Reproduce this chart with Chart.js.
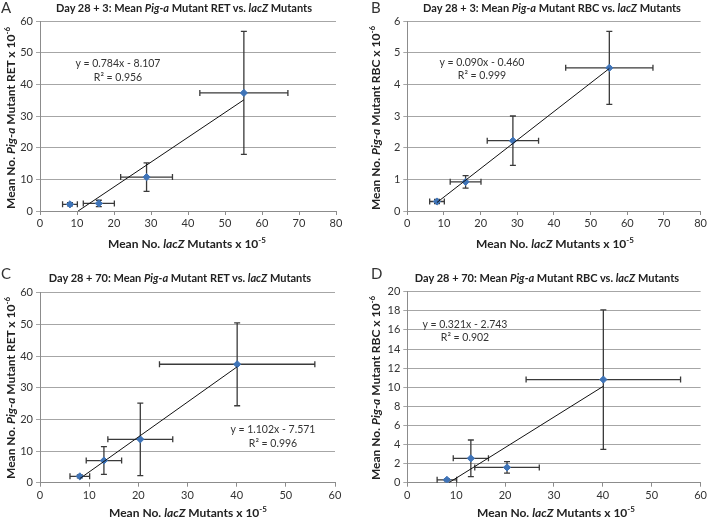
<!DOCTYPE html>
<html><head><meta charset="utf-8">
<script src="https://cdn.jsdelivr.net/npm/chart.js@4/dist/chart.umd.min.js"></script>
<style>
html,body{margin:0;padding:0;background:#fff;}
#wrap{position:relative;width:709px;height:519px;overflow:hidden;font-family:Lato,"Open Sans",sans-serif;color:#222;}
canvas{position:absolute;left:0;top:0;}
.t{position:absolute;white-space:nowrap;transform:translate(-50%,-50%);}
.title{font-weight:bold;font-size:11px;}
.xt{font-weight:bold;font-size:12px;}
.yt{font-weight:bold;font-size:12px;transform:translate(-50%,-50%) rotate(-90deg);}
.eq{font-size:10.5px;color:#333;}
.lab{position:absolute;font-size:15px;color:#333;}
sup{font-size:8px;vertical-align:5px;line-height:0;}
</style></head>
<body><div id="wrap">
<canvas id="cA" width="709" height="519"></canvas>
<canvas id="cB" width="709" height="519"></canvas>
<canvas id="cC" width="709" height="519"></canvas>
<canvas id="cD" width="709" height="519"></canvas>

<div class="lab" style="left:1px;top:-2px">A</div>
<div class="lab" style="left:371px;top:-2px">B</div>
<div class="lab" style="left:1px;top:264px">C</div>
<div class="lab" style="left:371px;top:264px">D</div>

<div class="t title" style="left:184px;top:7px">Day 28 + 3: Mean <i>Pig-a</i> Mutant RET vs. <i>lacZ</i> Mutants</div>
<div class="t title" style="left:552px;top:7px">Day 28 + 3: Mean <i>Pig-a</i> Mutant RBC vs. <i>lacZ</i> Mutants</div>
<div class="t title" style="left:180px;top:277px">Day 28 + 70: Mean <i>Pig-a</i> Mutant RET vs. <i>lacZ</i> Mutants</div>
<div class="t title" style="left:547px;top:277px">Day 28 + 70: Mean <i>Pig-a</i> Mutant RBC vs. <i>lacZ</i> Mutants</div>

<div class="t xt" style="left:187px;top:243px">Mean No. <i>lacZ</i> Mutants x 10<sup>-5</sup></div>
<div class="t xt" style="left:555px;top:243px">Mean No. <i>lacZ</i> Mutants x 10<sup>-5</sup></div>
<div class="t xt" style="left:188px;top:512px">Mean No. <i>lacZ</i> Mutants x 10<sup>-5</sup></div>
<div class="t xt" style="left:556px;top:512px">Mean No. <i>lacZ</i> Mutants x 10<sup>-5</sup></div>

<div class="t yt" style="left:10px;top:118px">Mean No. <i>Pig-a</i> Mutant RET x 10<sup>-6</sup></div>
<div class="t yt" style="left:375px;top:118px">Mean No. <i>Pig-a</i> Mutant RBC x 10<sup>-6</sup></div>
<div class="t yt" style="left:10px;top:388px">Mean No. <i>Pig-a</i> Mutant RET x 10<sup>-6</sup></div>
<div class="t yt" style="left:375px;top:388px">Mean No. <i>Pig-a</i> Mutant RBC x 10<sup>-6</sup></div>

<div class="t eq" style="left:118px;top:63px">y = 0.784x - 8.107</div>
<div class="t eq" style="left:118px;top:77px">R² = 0.956</div>
<div class="t eq" style="left:482px;top:62px">y = 0.090x - 0.460</div>
<div class="t eq" style="left:482px;top:75px">R² = 0.999</div>
<div class="t eq" style="left:273px;top:429px">y = 1.102x - 7.571</div>
<div class="t eq" style="left:273px;top:443px">R² = 0.996</div>
<div class="t eq" style="left:465px;top:324px">y = 0.321x - 2.743</div>
<div class="t eq" style="left:465px;top:337px">R² = 0.902</div>
</div>
<script>
// ---- data ----
const xAB = [8.1, 15.9, 28.8, 55.1];
const xErrAB = [2.0, 4.2, 7.0, 11.9];
const xCD = [8.1, 13.0, 20.4, 40.1];
const xErrCD = [2.0, 3.6, 6.6, 15.8];

const yA = [2.1, 2.4, 10.7, 37.3];
const yErrA = [0.5, 1.0, 4.5, 19.4];
const yB = [0.3, 0.92, 2.22, 4.52];
const yErrB = [0.07, 0.2, 0.78, 1.15];
const yC = [2.0, 7.0, 13.7, 37.4];
const yErrC = [0.5, 4.4, 11.45, 13.1];
const yD = [0.3, 2.55, 1.6, 10.8];
const yErrD = [0.1, 1.92, 0.6, 7.3];

// trend line endpoints
const trendAX = [10.3, 55.1], trendAY = [0, 35.1];
const trendBX = [8.1, 55.1],  trendBY = [0.27, 4.5];
const trendCX = [8.1, 40.1],  trendCY = [1.3, 36.6];
const trendDX = [8.5, 40.1],  trendDY = [0, 10.1];

const yMaxA = 60, yStepA = 10, xMaxA = 80, xStepA = 10;
const yMaxB = 6,  yStepB = 1,  xMaxB = 80, xStepB = 10;
const yMaxC = 60, yStepC = 10, xMaxC = 60, xStepC = 10;
const yMaxD = 20, yStepD = 2,  xMaxD = 60, xStepD = 10;

// ---- drawing ----
const errPlugin = {
  id: 'errbars',
  beforeDatasetsDraw(chart) {
    const o = chart.options.plugins.errbars;
    const xs = chart.scales.x, ys = chart.scales.y, ctx = chart.ctx;
    ctx.save();
    ctx.strokeStyle = '#3a3a3a';
    ctx.lineWidth = 1.3;
    const cap = 3;
    for (let i = 0; i < o.x.length; i++) {
      const px = xs.getPixelForValue(o.x[i]), py = ys.getPixelForValue(o.y[i]);
      const x1 = xs.getPixelForValue(o.x[i] - o.xe[i]), x2 = xs.getPixelForValue(o.x[i] + o.xe[i]);
      const y1 = ys.getPixelForValue(o.y[i] - o.ye[i]), y2 = ys.getPixelForValue(o.y[i] + o.ye[i]);
      ctx.beginPath();
      ctx.moveTo(x1, py); ctx.lineTo(x2, py);
      ctx.moveTo(x1, py - cap); ctx.lineTo(x1, py + cap);
      ctx.moveTo(x2, py - cap); ctx.lineTo(x2, py + cap);
      ctx.moveTo(px, y1); ctx.lineTo(px, y2);
      ctx.moveTo(px - cap, y1); ctx.lineTo(px + cap, y1);
      ctx.moveTo(px - cap, y2); ctx.lineTo(px + cap, y2);
      ctx.stroke();
    }
    ctx.restore();
  }
};

function makeChart(id, x, xe, y, ye, tx, ty, xMax, xStep, yMax, yStep, pad) {
  const pts = x.map((v, i) => ({x: v, y: y[i]}));
  const tr = tx.map((v, i) => ({x: v, y: ty[i]}));
  new Chart(document.getElementById(id), {
    type: 'scatter',
    data: { datasets: [
      { data: tr, showLine: true, borderColor: '#111', borderWidth: 1, pointRadius: 0, fill: false },
      { data: pts, pointStyle: 'rectRot', pointRadius: 3.6, backgroundColor: '#3f74b8', borderColor: '#3f74b8', borderWidth: 1 }
    ]},
    options: {
      responsive: false, animation: false, devicePixelRatio: 1,
      layout: { padding: pad },
      plugins: { legend: {display: false}, tooltip: {enabled: false}, errbars: {x: x, xe: xe, y: y, ye: ye} },
      scales: {
        x: { type: 'linear', min: 0, max: xMax,
             ticks: { stepSize: xStep, color: '#333', font: {family: 'Lato', size: 11}, padding: 2, maxRotation: 0 },
             grid: { drawOnChartArea: false, drawTicks: true, tickLength: 4, color: '#8c8c8c' },
             border: { color: '#8c8c8c', width: 1 },
             afterFit: s => { s.height = 30; } },
        y: { type: 'linear', min: 0, max: yMax,
             ticks: { stepSize: yStep, color: '#333', font: {family: 'Lato', size: 11}, padding: 3 },
             grid: { color: '#a6a6a6', lineWidth: 1, tickLength: 4 },
             border: { color: '#8c8c8c', width: 1 },
             afterFit: s => { s.width = 40; } }
      }
    },
    plugins: [errPlugin]
  });
}

makeChart('cA', xAB, xErrAB, yA, yErrA, trendAX, trendAY, xMaxA, xStepA, yMaxA, yStepA,
  {left: 0, top: 21, right: 373, bottom: 278});
makeChart('cB', xAB, xErrAB, yB, yErrB, trendBX, trendBY, xMaxB, xStepB, yMaxB, yStepB,
  {left: 367.3, top: 21, right: 7.3, bottom: 278});
makeChart('cC', xCD, xErrCD, yC, yErrC, trendCX, trendCY, xMaxC, xStepC, yMaxC, yStepC,
  {left: 0, top: 292.7, right: 374, bottom: 6.3});
makeChart('cD', xCD, xErrCD, yD, yErrD, trendDX, trendDY, xMaxD, xStepD, yMaxD, yStepD,
  {left: 367.3, top: 291.7, right: 8, bottom: 6.3});
</script>
</body></html>
